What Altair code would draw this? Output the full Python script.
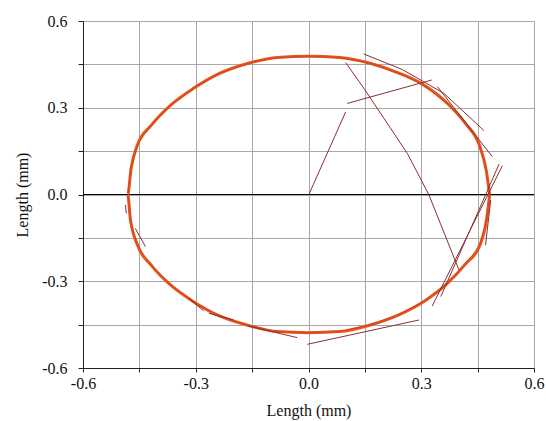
import altair as alt
import pandas as pd

# Main orange trace, read counter-clockwise from the picture (mm), ~every 10 degrees
trace_x = [0.482, 0.473, 0.455, 0.418, 0.372, 0.305, 0.240, 0.164, 0.083, 0.000,
           -0.083, -0.160, -0.238, -0.305, -0.366, -0.418, -0.455, -0.472, -0.481,
           -0.474, -0.455, -0.418, -0.368, -0.309, -0.240, -0.162, -0.083, 0.000,
           0.083, 0.162, 0.240, 0.309, 0.368, 0.418, 0.456, 0.474]
trace_y = [0.000, 0.083, 0.170, 0.245, 0.312, 0.380, 0.420, 0.454, 0.474, 0.478,
           0.474, 0.454, 0.418, 0.368, 0.310, 0.240, 0.172, 0.090, 0.000,
           -0.085, -0.175, -0.245, -0.312, -0.368, -0.418, -0.452, -0.474, -0.478,
           -0.474, -0.452, -0.416, -0.368, -0.309, -0.240, -0.175, -0.085]

# Thin dark-red segments (id, x, y)
seg_id = ["A", "A",
          "B", "B",
          "C", "C", "C", "C", "C", "C",
          "D", "D", "D", "D",
          "E", "E",
          "F", "F",
          "G", "G",
          "H", "H",
          "I", "I",
          "J", "J",
          "K", "K",
          "M", "M",
          "N", "N",
          "P", "P"]
seg_x = [0.001, 0.099,
         0.103, 0.328,
         0.099, 0.150, 0.200, 0.263, 0.320, 0.400,
         0.147, 0.250, 0.360, 0.467,
         0.343, 0.489,
         0.516, 0.329,
         -0.003, 0.294,
         -0.160, -0.030,
         -0.279, -0.319,
         -0.265, -0.199,
         -0.461, -0.434,
         -0.487, -0.485,
         0.471, 0.485,
         0.507, 0.352]
seg_y = [0.000, 0.286,
         0.315, 0.396,
         0.456, 0.362, 0.265, 0.142, 0.000, -0.260,
         0.486, 0.432, 0.350, 0.221,
         0.373, 0.131,
         0.100, -0.386,
         -0.518, -0.434,
         -0.455, -0.495,
         -0.402, -0.359,
         -0.411, -0.434,
         -0.117, -0.180,
         -0.036, -0.065,
         -0.175, -0.019,
         0.105, -0.353]

tick_values = [-0.6, -0.45, -0.3, -0.15, 0.0, 0.15, 0.3, 0.45, 0.6]
x_title = "Length (mm)"
y_title = "Length (mm)"

trace = pd.DataFrame({"x": trace_x + trace_x[:1], "y": trace_y + trace_y[:1],
                      "o": list(range(len(trace_x) + 1))})
segs = pd.DataFrame({"id": seg_id, "x": seg_x, "y": seg_y,
                     "o": list(range(len(seg_x)))})

label_expr = ("(abs(abs(datum.value) - 0.3) < 0.001 || abs(abs(datum.value) - 0.6) < 0.001"
              " || abs(datum.value) < 0.001) ? ((datum.value < -0.001 ? '-' : '')"
              " + format(abs(datum.value), '.1f')) : ''")

xscale = alt.Scale(domain=[-0.6, 0.6], nice=False, zero=False)
yscale = alt.Scale(domain=[-0.6, 0.6], nice=False, zero=False)

xaxis = alt.Axis(values=tick_values, labelExpr=label_expr, title=x_title,
                 grid=True, gridColor="#a8a8a8", gridWidth=1,
                 domainColor="#222", tickColor="#222", tickSize=4,
                 labelPadding=3, labelFont="Liberation Serif", labelFontSize=16,
                 labelColor="#111", titleFont="Liberation Serif", titleFontSize=16,
                 titleFontWeight="normal", titleColor="#111", titleY=42,
                 titleBaseline="middle", labelFlush=False)
yaxis = alt.Axis(values=tick_values, labelExpr=label_expr, title=y_title,
                 grid=True, gridColor="#a8a8a8", gridWidth=1,
                 domainColor="#222", tickColor="#222", tickSize=5,
                 labelPadding=11, labelFont="Liberation Serif", labelFontSize=16,
                 labelColor="#111", titleFont="Liberation Serif", titleFontSize=16,
                 titleFontWeight="normal", titleColor="#111", titleX=-61,
                 titleBaseline="middle", labelFlush=False)

base_trace = alt.Chart(trace).mark_line(
    interpolate="monotone", color="#e8531c", strokeWidth=3.0
).encode(
    x=alt.X("x:Q", scale=xscale, axis=xaxis),
    y=alt.Y("y:Q", scale=yscale, axis=yaxis),
    order="o:Q",
)

inner_trace = alt.Chart(trace).mark_line(
    interpolate="linear", color="#b5391c", strokeWidth=0.7, opacity=0.6
).encode(x="x:Q", y="y:Q", order="o:Q")

zero_rule = alt.Chart(pd.DataFrame({"y": [0.0]})).mark_rule(
    color="black", strokeWidth=1
).encode(y="y:Q")

seg_lines = alt.Chart(segs).mark_line(
    color="#8b3030", strokeWidth=1
).encode(x="x:Q", y="y:Q", detail="id:N", order="o:Q")

chart = alt.layer(zero_rule, base_trace, inner_trace, seg_lines).properties(
    width=451, height=347,
    autosize=alt.AutoSizeParams(type="none"),
    padding={"left": 83, "top": 21, "right": 12, "bottom": 53},
).configure_view(stroke="#555", strokeWidth=1).configure(background="white")

chart.save("out.html", embed_options={"renderer": "svg", "actions": False})
